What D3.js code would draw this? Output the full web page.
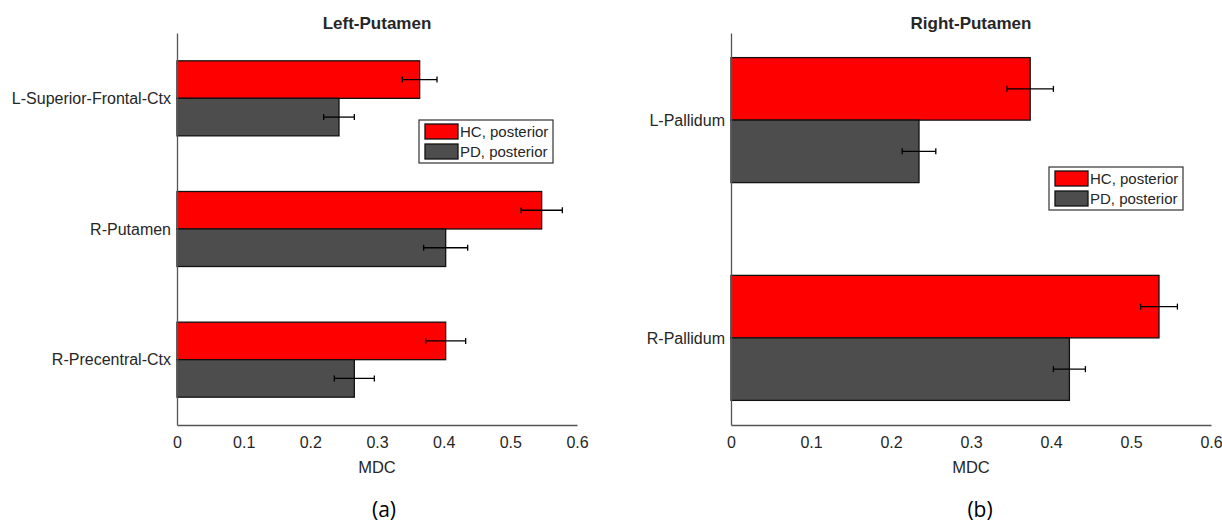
<!DOCTYPE html>
<html>
<head>
<meta charset="utf-8">
<script src="https://cdn.jsdelivr.net/npm/d3@7"></script>
<style>
  body { margin: 0; background: #fff; }
  text { font-family: 'Liberation Sans', Arial, sans-serif; fill: #262626; }
</style>
</head>
<body>
<div id="chart"></div>
<script>
// panel (a)
const leftTitle = 'Left-Putamen'
const leftRegions = ['L-Superior-Frontal-Ctx', 'R-Putamen', 'R-Precentral-Ctx']
const leftHC = [0.364, 0.547, 0.403]
const leftHCerr = [0.026, 0.031, 0.030]
const leftPD = [0.243, 0.403, 0.266]
const leftPDerr = [0.023, 0.033, 0.030]

// panel (b)
const rightTitle = 'Right-Putamen'
const rightRegions = ['L-Pallidum', 'R-Pallidum']
const rightHC = [0.374, 0.535]
const rightHCerr = [0.029, 0.023]
const rightPD = [0.235, 0.423]
const rightPDerr = [0.021, 0.020]

const series = ['HC, posterior', 'PD, posterior']
const colors = ['#ff0000', '#4d4d4d']
const xTicks = [0, 0.1, 0.2, 0.3, 0.4, 0.5, 0.6]

const W = 1222, H = 525
const FONT = "'Liberation Sans', Arial, sans-serif"

const svg = d3.select('#chart')
  .append('svg')
  .attr('width', W)
  .attr('height', H)

function panel(opts) {
  const { left, right, top, bottom, regions, hc, hcErr, pd, pdErr, title, yDomain, legendX, legendY, caption, label } = opts

  const g = svg.append('g')

  const x = d3.scaleLinear().domain([0, 0.6]).range([left, right])
  const y = d3.scaleLinear().domain(yDomain).range([top, bottom])
  // bar thickness in category units (matlab-ish grouped barh)
  const barH = y(yDomain[0] + 0.287) - y(yDomain[0])

  const rows = regions.map((r, i) => ({
    region: r, idx: i + 1,
    vals: [{ v: hc[i], e: hcErr[i], s: 0 }, { v: pd[i], e: pdErr[i], s: 1 }]
  }))

  const grp = g.selectAll('.grp')
    .data(rows)
    .enter()
    .append('g')

  grp.selectAll('rect')
    .data(d => d.vals.map(v => ({ ...v, idx: d.idx })))
    .enter()
    .append('rect')
    .attr('x', x(0))
    .attr('y', d => y(d.idx) - barH + d.s * barH)
    .attr('width', d => x(d.v) - x(0))
    .attr('height', barH)
    .attr('fill', d => colors[d.s])
    .attr('stroke', '#111')
    .attr('stroke-width', 1.3)

  // error bars
  const eb = grp.selectAll('.err')
    .data(d => d.vals.map(v => ({ ...v, idx: d.idx })))
    .enter()
    .append('g')
    .attr('stroke', '#000')
    .attr('stroke-width', 1.3)
  const cy = d => y(d.idx) - barH / 2 + d.s * barH
  eb.append('line')
    .attr('x1', d => x(d.v - d.e)).attr('x2', d => x(d.v + d.e))
    .attr('y1', cy).attr('y2', cy)
  eb.append('line')
    .attr('x1', d => x(d.v - d.e)).attr('x2', d => x(d.v - d.e))
    .attr('y1', d => cy(d) - 3).attr('y2', d => cy(d) + 3)
  eb.append('line')
    .attr('x1', d => x(d.v + d.e)).attr('x2', d => x(d.v + d.e))
    .attr('y1', d => cy(d) - 3).attr('y2', d => cy(d) + 3)

  // axes
  const xAxis = g.append('g')
    .attr('transform', `translate(0,${bottom})`)
    .call(d3.axisBottom(x).tickValues(xTicks).tickSize(0).tickPadding(12).tickFormat(d => d === 0 ? '0' : d3.format('.1f')(d)))
  xAxis.select('.domain').attr('stroke', '#555').attr('stroke-width', 1.3)
  xAxis.selectAll('text').attr('font-size', 16).attr('fill', '#262626')
    .style('font-family', FONT)

  const yAxis = g.append('g')
    .attr('transform', `translate(${left},0)`)
    .call(d3.axisLeft(y).tickValues(rows.map(r => r.idx)).tickSize(0).tickPadding(6).tickFormat(i => regions[i - 1]))
  yAxis.select('.domain').attr('stroke', '#555').attr('stroke-width', 1.3)
  yAxis.selectAll('text').attr('font-size', 16).attr('fill', '#262626')
    .style('font-family', FONT)

  g.append('text')
    .attr('x', (left + right) / 2)
    .attr('y', 29)
    .attr('text-anchor', 'middle')
    .attr('font-size', 17)
    .attr('font-weight', 'bold')
    .text(title)

  g.append('text')
    .attr('x', (left + right) / 2)
    .attr('y', bottom + 48)
    .attr('text-anchor', 'middle')
    .attr('font-size', 16.5)
    .text('MDC')

  g.append('text')
    .attr('x', caption)
    .attr('y', 517)
    .attr('text-anchor', 'middle')
    .attr('font-size', 21)
    .style('font-family', "'Open Sans', sans-serif")
    .style('fill', '#000')
    .text(label)

  // legend
  const lg = g.append('g').attr('transform', `translate(${legendX},${legendY})`)
  lg.append('rect')
    .attr('width', 134).attr('height', 43)
    .attr('fill', '#fff').attr('stroke', '#333').attr('stroke-width', 1.2)
  series.forEach((s, i) => {
    lg.append('rect')
      .attr('x', 6).attr('y', 4 + i * 20)
      .attr('width', 33).attr('height', 15)
      .attr('fill', colors[i]).attr('stroke', '#111').attr('stroke-width', 1.3)
    lg.append('text')
      .attr('x', 41).attr('y', 12 + i * 20)
      .attr('dy', '0.35em')
      .attr('font-size', 15)
      .text(s)
  })
}

panel({
  left: 177, right: 577, top: 33, bottom: 425,
  regions: leftRegions, hc: leftHC, hcErr: leftHCerr, pd: leftPD, pdErr: leftPDerr,
  title: leftTitle, yDomain: [0.5, 3.5], legendX: 419, legendY: 120, caption: 384, label: '(a)'
})

panel({
  left: 731, right: 1211, top: 33, bottom: 425,
  regions: rightRegions, hc: rightHC, hcErr: rightHCerr, pd: rightPD, pdErr: rightPDerr,
  title: rightTitle, yDomain: [0.6, 2.4], legendX: 1049, legendY: 167, caption: 980, label: '(b)'
})
</script>
</body>
</html>
